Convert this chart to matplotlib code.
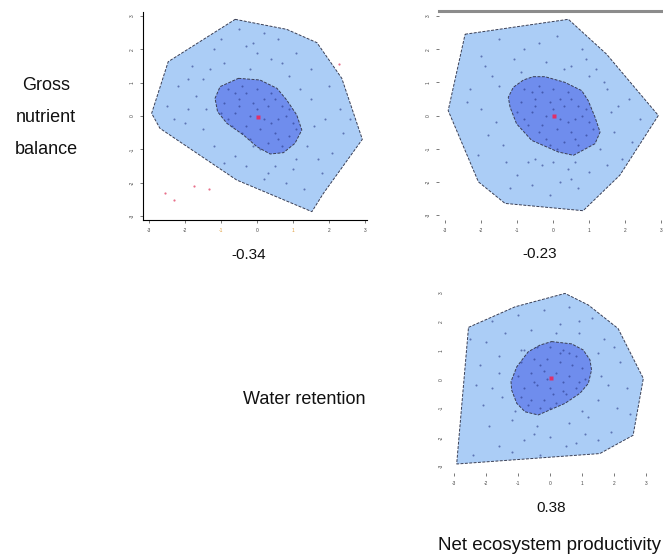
import numpy as np
import matplotlib.pyplot as plt
from matplotlib.patches import Polygon

plt.rcParams['font.family'] = ['Liberation Sans', 'DejaVu Sans']

W, H = 663, 557

# ---- data (data units of each panel) ----
ticks = [-3, -2, -1, 0, 1, 2, 3]

# Gross nutrient balance vs Water retention  (r = -0.34)
tl_outer = [(-0.60, 2.90), (0.83, 2.60), (1.67, 2.20), (2.36, 1.13), (2.93, -0.70),
            (1.85, -2.32), (1.53, -2.87), (-0.56, -1.92), (-2.69, -0.37),
            (-2.92, 0.08), (-2.46, 1.63)]
tl_inner = [(-0.51, 1.13), (0.09, 1.08), (0.56, 0.83), (0.83, 0.48), (1.11, 0.03),
            (1.25, -0.42), (1.06, -0.82), (0.74, -1.10), (0.37, -1.14), (0.0, -0.92),
            (-0.37, -0.57), (-0.83, -0.22), (-1.09, 0.13), (-1.16, 0.53), (-1.02, 0.88)]
tl_x = [-0.5, 0.2, 0.6, -1.2, -0.3, 1.1, -1.8, -0.9, 0.4, 1.5, -2.2, -1.5, -0.2, 0.9, 2.0,
        -2.5, -1.7, -1.4, 1.5, 2.3, -2.0, -1.5, 1.6, 2.4, -1.2, -0.6, 1.4, 2.1, -0.3, 0.5,
        1.0, 1.8, 0.2, 1.3, 0.8, -0.9, -1.9, 1.9, -1.0, 0.0, 0.7, -1.3, 1.2, -1.9, 1.7,
        0.3, -0.1, 2.6, -2.3, 1.1,
        -0.8, -0.4, 0.0, 0.4, -0.9, -0.5, -0.1, 0.3, 0.7, -1.0, -0.6, -0.2, 0.2, 0.6, 1.0,
        -0.7, -0.3, 0.1, 0.5, 0.9, -0.2, 0.3, 0.7, 0.1, -0.5, 0.5, -0.3, 0.8, -0.8, 0.4,
        0.0, -0.4, 0.6, 0.2, -0.6, 1.1, 0.9, -0.1]
tl_y = [2.6, 2.5, 2.3, 2.0, 2.1, 1.9, 1.5, 1.6, 1.7, 1.4, 0.9, 1.1, 1.4, 1.2, 0.9,
        0.3, 0.6, 0.2, 0.5, 0.2, -0.2, -0.4, -0.3, -0.5, -0.9, -1.2, -0.9, -1.1, -1.5, -1.5,
        -1.6, -1.7, -1.9, -2.2, -2.0, -1.4, 0.2, -0.1, 2.3, 1.9, 1.6, 1.4, 0.8, 1.1, -1.3,
        -1.7, 2.2, -0.1, -0.1, -1.3,
        0.8, 0.9, 0.8, 0.7, 0.4, 0.5, 0.4, 0.3, 0.3, 0.1, 0.1, 0.0, -0.1, -0.1, -0.2,
        -0.3, -0.3, -0.4, -0.5, -0.6, -0.7, -0.8, -0.9, -1.0, 0.3, 0.5, 0.7, 0.0, -0.1, -0.2,
        0.2, -0.5, -0.7, 0.5, 0.7, -0.4, 0.2, -0.9]
tl_out_x = [-2.55, -1.73, -2.31, -1.32, 2.29]
tl_out_y = [-2.32, -2.10, -2.52, -2.20, 1.55]
tl_med = (0.03, -0.04)

# Gross nutrient balance vs Net ecosystem productivity  (r = -0.23)
tr_outer = [(-2.45, 2.45), (0.42, 2.90), (1.48, 1.85), (2.92, 0.0), (1.85, -1.80),
            (0.83, -2.87), (-1.34, -2.65), (-2.08, -2.0), (-2.92, 0.15)]
tr_inner = [(-0.56, 1.17), (-0.23, 1.17), (0.32, 1.0), (0.79, 0.75), (0.97, 0.45),
            (1.16, -0.05), (1.30, -0.50), (1.16, -0.85), (0.56, -1.20), (0.14, -1.10),
            (-0.60, -0.75), (-1.02, -0.25), (-1.20, 0.25), (-1.25, 0.55), (-1.11, 0.85),
            (-0.83, 1.07)]
tr_x = [-1.5, -0.8, 0.1, 0.8, -2.0, -1.1, -0.2, 0.5, 1.2, -1.7, -0.9, 0.3, 1.0, -2.3,
        -1.5, 1.5, 2.1, -2.0, -1.6, 1.6, 2.4, -1.8, -1.4, 1.7, 2.2, -1.3, -0.7, 1.3, 1.9,
        -1.0, -0.3, 0.4, 1.0, -0.6, 0.2, 0.7, -0.1, 0.5, -1.9, 1.4, -0.4, 0.9, -2.4, 0.0,
        -1.2, 1.8, 0.6, -0.5, 1.5, -2.1,
        -0.8, -0.4, 0.0, 0.4, -0.9, -0.5, -0.1, 0.3, 0.7, -1.0, -0.6, -0.2, 0.2, 0.6, 1.0,
        -0.7, -0.3, 0.1, 0.5, 0.9, -0.2, 0.3, 0.7, 0.1, -0.5, 0.5, -0.3, 0.8, -0.8, 0.4,
        0.0, -0.4, 0.6, 0.2, -0.6, 1.1, 0.9, -0.1]
tr_y = [2.3, 2.0, 2.4, 2.0, 1.8, 1.7, 1.6, 1.5, 1.4, 1.2, 1.3, 1.4, 1.2, 0.8,
        0.9, 0.8, 0.5, 0.2, -0.2, 0.1, -0.1, -0.6, -0.9, -0.5, -0.8, -1.4, -1.4, -1.0, -1.3,
        -1.8, -1.5, -1.6, -1.7, -2.1, -2.0, -2.2, -2.4, -1.9, 1.5, 1.0, 2.2, 1.7, 0.4, -1.4,
        -2.2, 0.3, -1.4, -1.3, -1.5, -1.2,
        0.8, 0.9, 0.8, 0.7, 0.4, 0.5, 0.4, 0.3, 0.3, 0.1, 0.1, 0.0, -0.1, -0.1, -0.2,
        -0.3, -0.3, -0.4, -0.5, -0.6, -0.7, -0.8, -0.9, -1.0, 0.3, 0.5, 0.7, 0.0, -0.1, -0.2,
        0.2, -0.5, -0.7, 0.5, 0.7, -0.4, 0.2, -0.9]
tr_med = (0.03, -0.03)

# Water retention vs Net ecosystem productivity  (r = 0.38)
br_outer = [(-2.55, 1.79), (-1.09, 2.50), (0.47, 2.96), (1.20, 2.56), (2.13, 1.75),
            (2.92, 0.03), (2.60, -1.93), (1.56, -2.56), (-2.92, -2.92)]
br_inner = [(0.05, 1.30), (0.68, 1.22), (1.04, 1.01), (1.25, 0.67), (1.30, 0.32),
            (1.20, -0.14), (0.94, -0.48), (0.47, -0.83), (-0.37, -1.23), (-0.78, -1.12),
            (-1.04, -0.83), (-1.20, -0.37), (-1.22, -0.08), (-1.04, 0.43), (-0.68, 0.95),
            (-0.31, 1.18)]
br_x = [-1.8, -1.0, -0.2, 0.6, 1.3, -2.0, -1.4, -0.6, 0.9, 1.7, -2.2, -1.6, 1.5, 2.2,
        -2.3, -1.6, 1.6, 2.4, -2.1, -1.5, 1.5, 2.1, -1.9, -1.2, -0.4, 0.6, 1.2, 1.9, -1.6,
        -0.8, 0.0, 0.8, 1.5, -1.2, -0.3, 0.5, 1.1, -2.4, -0.9, 0.3, 2.0, -1.1, 1.0, -0.5,
        0.2, 1.8, -1.8, 0.9, -2.5, 2.5,
        -0.8, -0.4, 0.0, 0.4, 0.8, -0.9, -0.5, -0.1, 0.3, 0.7, 1.0, -1.0, -0.6, -0.2, 0.2,
        0.6, 0.9, -0.8, -0.4, 0.0, 0.4, 0.8, -0.6, -0.2, 0.2, -0.3, 0.1, -0.7, 0.5, 1.1,
        -0.1, 0.3, -0.5, 0.6, -0.9, 0.0, 0.4, -0.3]
br_y = [2.0, 2.2, 2.4, 2.5, 2.1, 1.3, 1.6, 1.7, 1.6, 1.4, 0.5, 0.8, 0.9, 0.6,
        -0.2, 0.2, 0.1, -0.3, -0.9, -0.6, -0.7, -1.0, -1.6, -1.4, -1.6, -1.5, -1.3, -1.8, -2.3,
        -2.1, -2.0, -2.2, -2.1, -2.5, -2.6, -2.3, -1.9, -2.6, 1.0, 1.9, 1.1, -1.1, -1.1, -1.9,
        1.6, -0.2, -0.3, 2.0, 1.4, -1.2,
        1.0, 1.1, 1.1, 1.0, 0.8, 0.6, 0.7, 0.7, 0.6, 0.5, 0.4, 0.1, 0.2, 0.3, 0.2,
        0.1, -0.1, -0.3, -0.2, -0.3, -0.4, -0.3, -0.7, -0.7, -0.8, -1.0, -0.5, -0.9, -0.5, 0.0,
        0.0, 0.9, -0.1, 0.9, -0.6, -1.0, -0.1, 0.5]
br_med = (0.03, 0.06)

outer_col = '#abcdf6'
inner_col = '#6f8ded'
dot_col = '#2a3a88'
edge_col = '#3a3f55'


def px_axes(fig, l, t, r, b):
    return fig.add_axes([l / W, 1 - b / H, (r - l) / W, (b - t) / H])


def bag(ax, outer, inner, xs, ys, med):
    ax.add_patch(Polygon(outer, closed=True, facecolor=outer_col,
                         edgecolor=edge_col, lw=0.7, ls=(0, (3, 1.5)), zorder=1))
    ax.add_patch(Polygon(inner, closed=True, facecolor=inner_col,
                         edgecolor=edge_col, lw=0.7, ls=(0, (3, 1.5)), zorder=2))
    ax.scatter(xs, ys, s=2.2, color=dot_col, alpha=0.6, lw=0, zorder=3)
    ax.plot(med[0], med[1], 's', ms=2.2, color='#e0306a', mec='none', zorder=4)


def style(ax, xlim, ylim):
    ax.set_xlim(*xlim)
    ax.set_ylim(*ylim)
    ax.set_xticks(ticks)
    ax.set_yticks(ticks)
    ax.set_xticklabels([str(t) for t in ticks], fontsize=3.5, color='#555555')
    ax.set_yticklabels([str(t) for t in ticks], fontsize=3.5, color='#555555',
                       rotation=90, va='center')
    ax.tick_params(length=2, width=0.5, colors='#444444', pad=4)
    ax.set_facecolor('none')


fig = plt.figure(figsize=(W / 100, H / 100), dpi=100)

# top-left panel
ax1 = px_axes(fig, 143, 12, 367, 220)
bag(ax1, tl_outer, tl_inner, tl_x, tl_y, tl_med)
ax1.scatter(tl_out_x, tl_out_y, s=2.5, color='#e8708a', lw=0, zorder=3)
style(ax1, (-3.16, 3.06), (-3.12, 3.12))
for s in ['top', 'right']:
    ax1.spines[s].set_visible(False)
for s in ['left', 'bottom']:
    ax1.spines[s].set_linewidth(0.8)
for i, lab in enumerate(ax1.get_xticklabels()):
    if ticks[i] in (-1, 1):
        lab.set_color('#e0a040')

# top-right panel
ax2 = px_axes(fig, 439, 11, 667, 220)
bag(ax2, tr_outer, tr_inner, tr_x, tr_y, tr_med)
style(ax2, (-3.175, 3.16), (-3.15, 3.15))
for s in ['left', 'bottom', 'right']:
    ax2.spines[s].set_visible(False)
ax2.spines['top'].set_color('#8c8c8c')
ax2.spines['top'].set_linewidth(2.2)

# bottom-right panel
ax3 = px_axes(fig, 449, 285, 651, 473)
bag(ax3, br_outer, br_inner, br_x, br_y, br_med)
style(ax3, (-3.16, 3.16), (-3.23, 3.25))
ax3.tick_params(axis='y', length=0)
for s in ['left', 'bottom', 'right', 'top']:
    ax3.spines[s].set_visible(False)

# text labels
def ftext(x, y, s, size=13):
    fig.text(x / W, 1 - y / H, s, ha='center', va='center', fontsize=size, color='#111111')

ftext(46, 86, 'Gross')
ftext(46, 118, 'nutrient')
ftext(46, 150, 'balance')
ftext(249, 255, '-0.34', 11)
ftext(540, 254, '-0.23', 11)
ftext(551, 508, '0.38', 11)
ftext(304, 400, 'Water retention')
ftext(550, 546, 'Net ecosystem productivity', 13.5)

fig.savefig('out.png', dpi=100)
